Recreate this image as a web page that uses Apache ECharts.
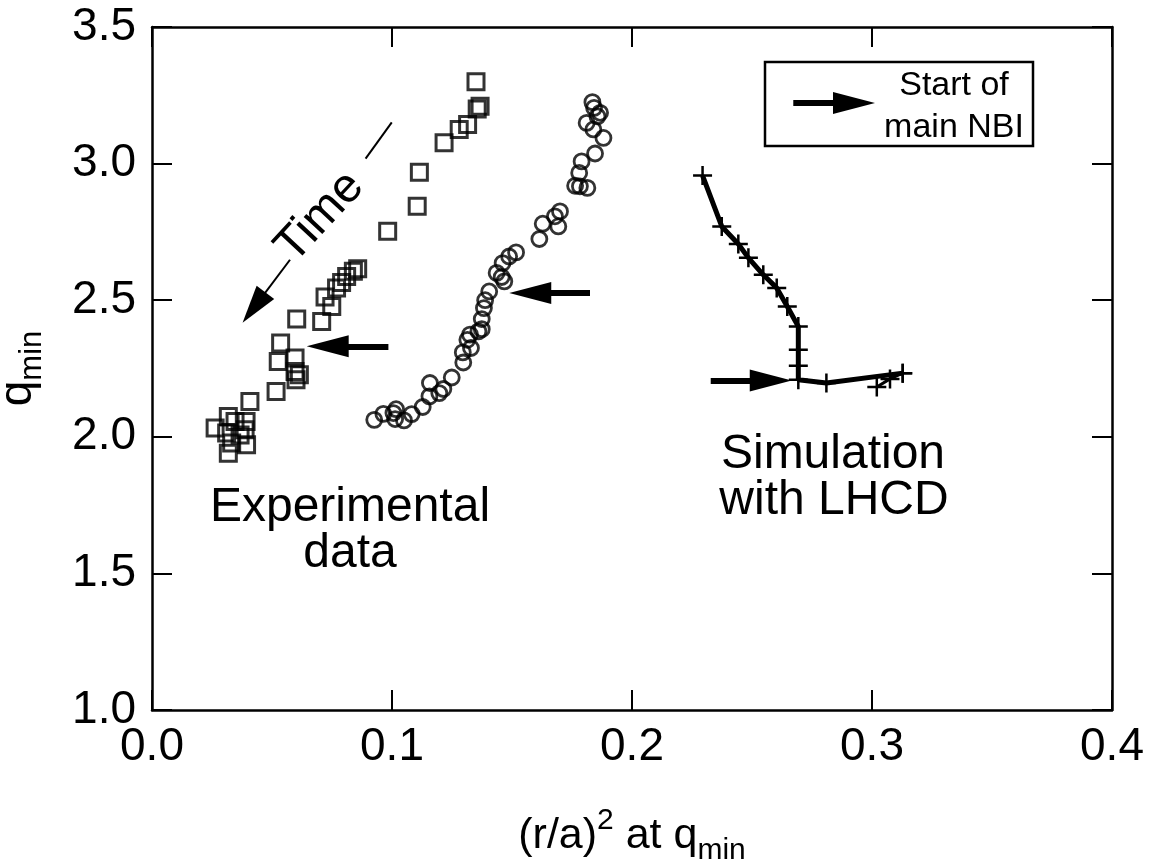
<!DOCTYPE html>
<html>
<head>
<meta charset="utf-8">
<script src="https://cdn.jsdelivr.net/npm/echarts@6/dist/echarts.min.js"></script>
<style>
  html, body { margin: 0; padding: 0; background: #fff; }
  #chart { width: 1154px; height: 863px; }
</style>
</head>
<body>
<div id="chart"></div>
<script>
// 实验数据：方块（第一组）
const sqX = [0.135, 0.1367, 0.1355, 0.1315, 0.128, 0.1217, 0.1114, 0.1105, 0.0982, 0.0857,
  0.0839, 0.0811, 0.079, 0.0769, 0.0721, 0.0749, 0.0707, 0.0603, 0.0536, 0.0526,
  0.0596, 0.0596, 0.0614, 0.06, 0.0517, 0.0408, 0.0318, 0.0263, 0.0346, 0.0392,
  0.0311, 0.0388, 0.0332, 0.0394, 0.0318, 0.0367];
const sqY = [3.30, 3.21, 3.20, 3.143, 3.125, 3.076, 2.968, 2.844, 2.752, 2.615,
  2.606, 2.587, 2.565, 2.545, 2.512, 2.477, 2.422, 2.431, 2.343, 2.276,
  2.288, 2.239, 2.227, 2.209, 2.166, 2.129, 2.074, 2.032, 2.056, 2.056,
  2.014, 2.026, 1.977, 1.971, 1.940, 2.007];

// 实验数据：圆圈（第二组）
const ciX = [0.1835, 0.1842, 0.1867, 0.1856, 0.1811, 0.1839, 0.1881, 0.1846, 0.179, 0.178,
  0.1763, 0.1783, 0.1814, 0.17, 0.1679, 0.1693, 0.1628, 0.1614, 0.1517, 0.1488,
  0.1461, 0.1436, 0.1457, 0.1468, 0.1405, 0.1388, 0.1383, 0.1374, 0.1374, 0.136,
  0.1325, 0.1314, 0.1329, 0.1295, 0.1297, 0.1249, 0.1214, 0.1158, 0.1197, 0.1156,
  0.1128, 0.1082, 0.105, 0.1017, 0.1006, 0.1013, 0.0964, 0.0926];
const ciY = [3.225, 3.204, 3.186, 3.173, 3.149, 3.125, 3.094, 3.037, 3.008, 2.966,
  2.919, 2.917, 2.911, 2.825, 2.807, 2.77, 2.78, 2.724, 2.675, 2.66,
  2.636, 2.60, 2.585, 2.569, 2.532, 2.50, 2.471, 2.431, 2.394, 2.386,
  2.374, 2.355, 2.325, 2.309, 2.272, 2.217, 2.175, 2.197, 2.16, 2.148,
  2.109, 2.083, 2.06, 2.101, 2.087, 2.065, 2.084, 2.062];

// 模拟（LHCD）
const simX = [0.2294, 0.2374, 0.2443, 0.2485, 0.2547, 0.2603, 0.2647, 0.2693, 0.2693, 0.2693,
  0.2693, 0.281, 0.3128];
const simY = [2.956, 2.770, 2.706, 2.655, 2.593, 2.545, 2.477, 2.404, 2.319, 2.26,
  2.209, 2.197, 2.233];
const tailX = [0.3128, 0.3075, 0.302];
const tailY = [2.233, 2.212, 2.182];

// 箭头：[尾x, 尾y, 头x, 头y]
const arrows = [
  [0.0985, 2.331, 0.0732, 2.331],
  [0.1825, 2.526, 0.1576, 2.526],
  [0.2328, 2.206, 0.2578, 2.206],
  [0.2672, 3.222, 0.2925, 3.222]
];
const timeArrow = [0.0575, 2.648, 0.0425, 2.473];
const timeDash = [0.0890, 3.018, 0.0999, 3.151];

const xTicks = [0, 0.1, 0.2, 0.3, 0.4];
const yTicks = [1.0, 1.5, 2.0, 2.5, 3.0, 3.5];

const FONT = "'Liberation Sans', Arial, Helvetica, sans-serif";
const zip = (xs, ys) => xs.map((x, i) => [x, ys[i]]);

const chart = echarts.init(document.getElementById("chart"));

const axisCommon = {
  axisLine: { show: true, onZero: false, lineStyle: { color: "#000", width: 2.5 } },
  axisTick: { show: true, inside: true, length: 20, lineStyle: { color: "#000", width: 2 } },
  splitLine: { show: false }
};

const arrowLines = arrows.map((a) => [
  { coord: [a[0], a[1]], symbol: "none" },
  { coord: [a[2], a[3]], symbol: "triangle", symbolSize: [22, 42] }
]);
arrowLines.push([
  { coord: [timeArrow[0], timeArrow[1]], symbol: "none", lineStyle: { width: 2 } },
  { coord: [timeArrow[2], timeArrow[3]], symbol: "triangle", symbolSize: [22, 38] }
]);
arrowLines.push([
  { coord: [timeDash[0], timeDash[1]], symbol: "none", lineStyle: { width: 2 } },
  { coord: [timeDash[2], timeDash[3]], symbol: "none" }
]);

const option = {
  animation: false,
  backgroundColor: "#fff",
  grid: { left: 152, right: 42, top: 27, bottom: 153, containLabel: false, outerBoundsMode: "none" },
  xAxis: [
    Object.assign({}, axisCommon, {
      type: "value", min: 0, max: 0.4, interval: 0.1,
      axisLabel: { color: "#000", fontSize: 46, fontFamily: FONT, margin: 14,
        formatter: (v) => v.toFixed(1) },
      name: "{a|(r/a)}{sup|2}{a| at q}{sub|min}",
      nameLocation: "middle",
      nameGap: 96,
      nameTextStyle: {
        rich: {
          a: { fontSize: 43, fontFamily: FONT, color: "#000", lineHeight: 60 },
          sup: { fontSize: 30, fontFamily: FONT, color: "#000", lineHeight: 60, verticalAlign: "top", padding: [0, 0, 18, 0] },
          sub: { fontSize: 30, fontFamily: FONT, color: "#000", lineHeight: 60, verticalAlign: "bottom", padding: [14, 0, 0, 0] }
        }
      }
    }),
    Object.assign({}, axisCommon, {
      type: "value", min: 0, max: 0.4, interval: 0.1, position: "top",
      axisLabel: { show: false }
    })
  ],
  yAxis: [
    Object.assign({}, axisCommon, {
      type: "value", min: 1, max: 3.5, interval: 0.5,
      axisLabel: { color: "#000", fontSize: 46, fontFamily: FONT, margin: 16,
        formatter: (v) => v.toFixed(1) },
      name: "{a|q}{sub|min}",
      nameLocation: "middle",
      nameGap: 104,
      nameRotate: 90,
      nameTextStyle: {
        rich: {
          a: { fontSize: 46, fontFamily: FONT, color: "#000", lineHeight: 60 },
          sub: { fontSize: 31, fontFamily: FONT, color: "#000", lineHeight: 60, verticalAlign: "bottom", padding: [14, 0, 0, 0] }
        }
      }
    }),
    Object.assign({}, axisCommon, {
      type: "value", min: 1, max: 3.5, interval: 0.5, position: "right",
      axisLabel: { show: false }
    })
  ],
  series: [
    {
      type: "scatter",
      data: zip(sqX, sqY),
      symbol: "rect",
      symbolSize: 16,
      itemStyle: { color: "rgba(0,0,0,0)", borderColor: "#000", borderWidth: 3 }
    },
    {
      type: "scatter",
      data: zip(ciX, ciY),
      symbol: "circle",
      symbolSize: 15,
      itemStyle: { color: "rgba(0,0,0,0)", borderColor: "#000", borderWidth: 2.8 }
    },
    {
      type: "line",
      data: zip(simX, simY),
      symbol: "path://M10,0L10,20M0,10L20,10",
      symbolSize: 19,
      lineStyle: { color: "#000", width: 5 },
      itemStyle: { color: "rgba(0,0,0,0)", borderColor: "#000", borderWidth: 2.5 },
      z: 3
    },
    {
      type: "line",
      data: zip(tailX, tailY),
      symbol: "path://M10,0L10,20M0,10L20,10",
      symbolSize: 19,
      lineStyle: { color: "#000", width: 3 },
      itemStyle: { color: "rgba(0,0,0,0)", borderColor: "#000", borderWidth: 2.5 },
      z: 3,
      markLine: {
        silent: true,
        animation: false,
        label: { show: false },
        lineStyle: { color: "#000", width: 6, type: "solid" },
        itemStyle: { color: "#000" },
        data: arrowLines
      }
    }
  ],
  graphic: [
    { type: "rect", shape: { x: 765, y: 62, width: 268, height: 84 },
      style: { fill: "none", stroke: "#000", lineWidth: 2.5 } },
    { type: "text", x: 954, y: 86, style: { text: "Start of", font: "34px " + FONT, fill: "#000", align: "center", verticalAlign: "middle" } },
    { type: "text", x: 954, y: 128, style: { text: "main NBI", font: "34px " + FONT, fill: "#000", align: "center", verticalAlign: "middle" } },
    { type: "text", x: 350, y: 508, style: { text: "Experimental", font: "48px " + FONT, fill: "#000", align: "center", verticalAlign: "middle" } },
    { type: "text", x: 350, y: 554, style: { text: "data", font: "48px " + FONT, fill: "#000", align: "center", verticalAlign: "middle" } },
    { type: "text", x: 833, y: 455, style: { text: "Simulation", font: "48px " + FONT, fill: "#000", align: "center", verticalAlign: "middle" } },
    { type: "text", x: 834, y: 501, style: { text: "with LHCD", font: "48px " + FONT, fill: "#000", align: "center", verticalAlign: "middle" } },
    { type: "text", x: 320, y: 217, rotation: 47 * Math.PI / 180,
      style: { text: "Time", font: "48px " + FONT, fill: "#000", align: "center", verticalAlign: "middle" } }
  ]
};

chart.setOption(option);
window.addEventListener("resize", () => chart.resize());
</script>
</body>
</html>
